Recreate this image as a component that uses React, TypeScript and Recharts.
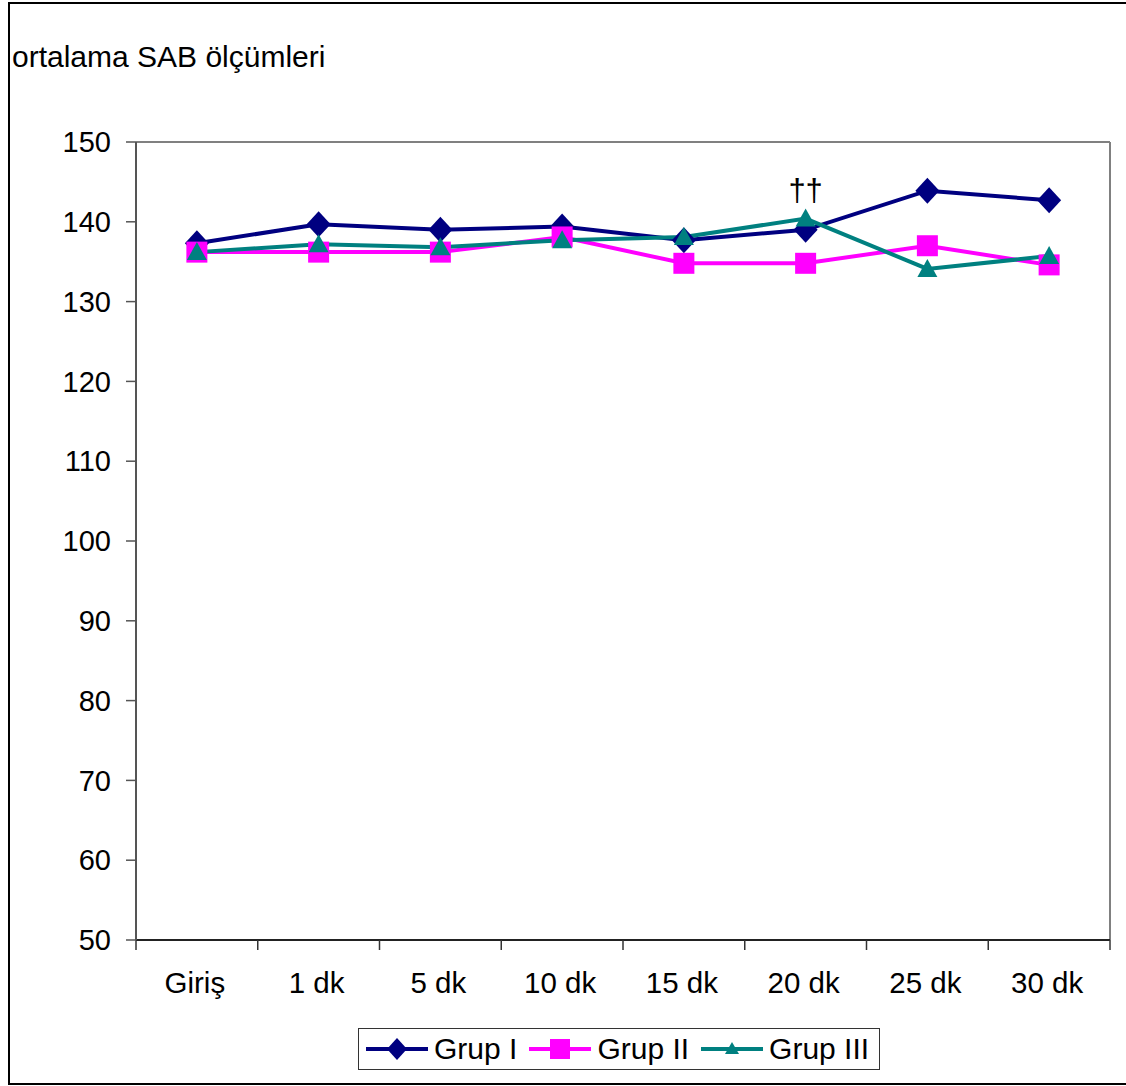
import React from 'react';
import { LineChart, Line, XAxis, YAxis, ReferenceLine } from 'recharts';

const categories = ['Giriş', '1 dk', '5 dk', '10 dk', '15 dk', '20 dk', '25 dk', '30 dk'];
const grupI = [137.3, 139.7, 139.0, 139.4, 137.7, 139.0, 143.9, 142.7];
const grupII = [136.2, 136.2, 136.2, 138.1, 134.8, 134.8, 137.0, 134.6];
const grupIII = [136.2, 137.2, 136.8, 137.7, 138.1, 140.4, 134.1, 135.7];
const yTicks = [50, 60, 70, 80, 90, 100, 110, 120, 130, 140, 150];
const xTicks = [-0.5, 0.5, 1.5, 2.5, 3.5, 4.5, 5.5, 6.5, 7.5];
const markIndex = 5;
const markText = '††';

const data = categories.map((c, i) => ({ idx: i, name: c, g1: grupI[i], g2: grupII[i], g3: grupIII[i] }));

const FONT = '"Liberation Sans", Arial, sans-serif';
const NAVY = '#000080';
const MAGENTA = '#FF00FF';
const TEAL = '#008080';
const PLOT_W = 974;
const HALF_BAND = PLOT_W / 16;

const Diamond = (props: any) => {
  const { cx, cy } = props;
  if (cx == null || cy == null) return null;
  return <polygon points={`${cx},${cy - 13} ${cx + 12},${cy} ${cx},${cy + 13} ${cx - 12},${cy}`} fill={NAVY} />;
};
const Square = (props: any) => {
  const { cx, cy } = props;
  if (cx == null || cy == null) return null;
  return <rect x={cx - 10.5} y={cy - 10.5} width={21} height={21} fill={MAGENTA} />;
};
const Triangle = (props: any) => {
  const { cx, cy } = props;
  if (cx == null || cy == null) return null;
  return <polygon points={`${cx},${cy - 10} ${cx + 10},${cy + 8} ${cx - 10},${cy + 8}`} fill={TEAL} />;
};

const XTick = (props: any) => {
  const { x, y, payload } = props;
  const i = payload.value + 0.5;
  if (i < 0 || i >= categories.length) return null;
  return (
    <text x={x + HALF_BAND - 2} y={y + 43} textAnchor="middle" fontSize={29.5} fontFamily={FONT} fill="#000">
      {categories[i]}
    </text>
  );
};

const MarkLabel = (props: any) => {
  const { x, y, index } = props;
  if (index !== markIndex) return null;
  return (
    <text x={x} y={y - 18} textAnchor="middle" fontSize={31} fontFamily={FONT} fill="#000">
      {markText}
    </text>
  );
};

const LegendItem = ({ color, marker, label }: { color: string; marker: string; label: string }) => (
  <div style={{ display: 'flex', alignItems: 'center', marginRight: 12 }}>
    <svg width={62} height={30} style={{ display: 'block' }}>
      <line x1={0} y1={15} x2={62} y2={15} stroke={color} strokeWidth={4} />
      {marker === 'diamond' && <polygon points="31,4 41,15 31,26 21,15" fill={color} />}
      {marker === 'square' && <rect x={21} y={5} width={20} height={20} fill={color} />}
      {marker === 'triangle' && <polygon points="31,8 38,20 24,20" fill={color} />}
    </svg>
    <span style={{ marginLeft: 6, fontSize: 30, fontFamily: FONT, color: '#000', whiteSpace: 'nowrap' }}>{label}</span>
  </div>
);

export default function App() {
  return (
    <div style={{ position: 'absolute', left: 0, top: 0, width: 1126, height: 1086, overflow: 'hidden', background: '#fff' }}>
      <div
        style={{
          position: 'absolute',
          left: 8,
          top: 2,
          width: 1140,
          height: 1083,
          boxSizing: 'border-box',
          border: '2px solid #000',
        }}
      />
      <div
        style={{
          position: 'absolute',
          left: 12,
          top: 42,
          fontSize: 30,
          lineHeight: '30px',
          fontFamily: FONT,
          color: '#000',
          whiteSpace: 'nowrap',
        }}
      >
        ortalama SAB ölçümleri
      </div>
      <div style={{ position: 'absolute', left: 0, top: 0 }}>
        <LineChart width={1126} height={1086} data={data} margin={{ top: 142, right: 16, bottom: 86, left: 36 }}>
          <XAxis
            dataKey="idx"
            type="number"
            domain={[-0.5, 7.5]}
            ticks={xTicks}
            interval={0}
            height={60}
            tickSize={10}
            tickMargin={0}
            tick={<XTick />}
            axisLine={{ stroke: '#222', strokeWidth: 2 }}
            tickLine={{ stroke: '#333', strokeWidth: 1.5 }}
          />
          <YAxis
            domain={[50, 150]}
            ticks={yTicks}
            interval={0}
            width={100}
            tickSize={10}
            tickMargin={15}
            tick={{ fontSize: 29, fontFamily: FONT, fill: '#000' }}
            axisLine={{ stroke: '#555', strokeWidth: 2 }}
            tickLine={{ stroke: '#555', strokeWidth: 1.5 }}
          />
          <ReferenceLine y={150} stroke="#808080" strokeWidth={2} />
          <ReferenceLine x={7.5} stroke="#808080" strokeWidth={2} />
          <Line dataKey="g1" stroke={NAVY} strokeWidth={4} dot={<Diamond />} activeDot={false} isAnimationActive={false} />
          <Line dataKey="g2" stroke={MAGENTA} strokeWidth={4} dot={<Square />} activeDot={false} isAnimationActive={false} />
          <Line
            dataKey="g3"
            stroke={TEAL}
            strokeWidth={4}
            dot={<Triangle />}
            activeDot={false}
            label={<MarkLabel />}
            isAnimationActive={false}
          />
        </LineChart>
      </div>
      <div
        style={{
          position: 'absolute',
          left: 358,
          top: 1028,
          width: 522,
          height: 42,
          boxSizing: 'border-box',
          border: '1.5px solid #333',
          display: 'flex',
          alignItems: 'center',
          paddingLeft: 7,
        }}
      >
        <LegendItem color={NAVY} marker="diamond" label="Grup I" />
        <LegendItem color={MAGENTA} marker="square" label="Grup II" />
        <LegendItem color={TEAL} marker="triangle" label="Grup III" />
      </div>
    </div>
  );
}
